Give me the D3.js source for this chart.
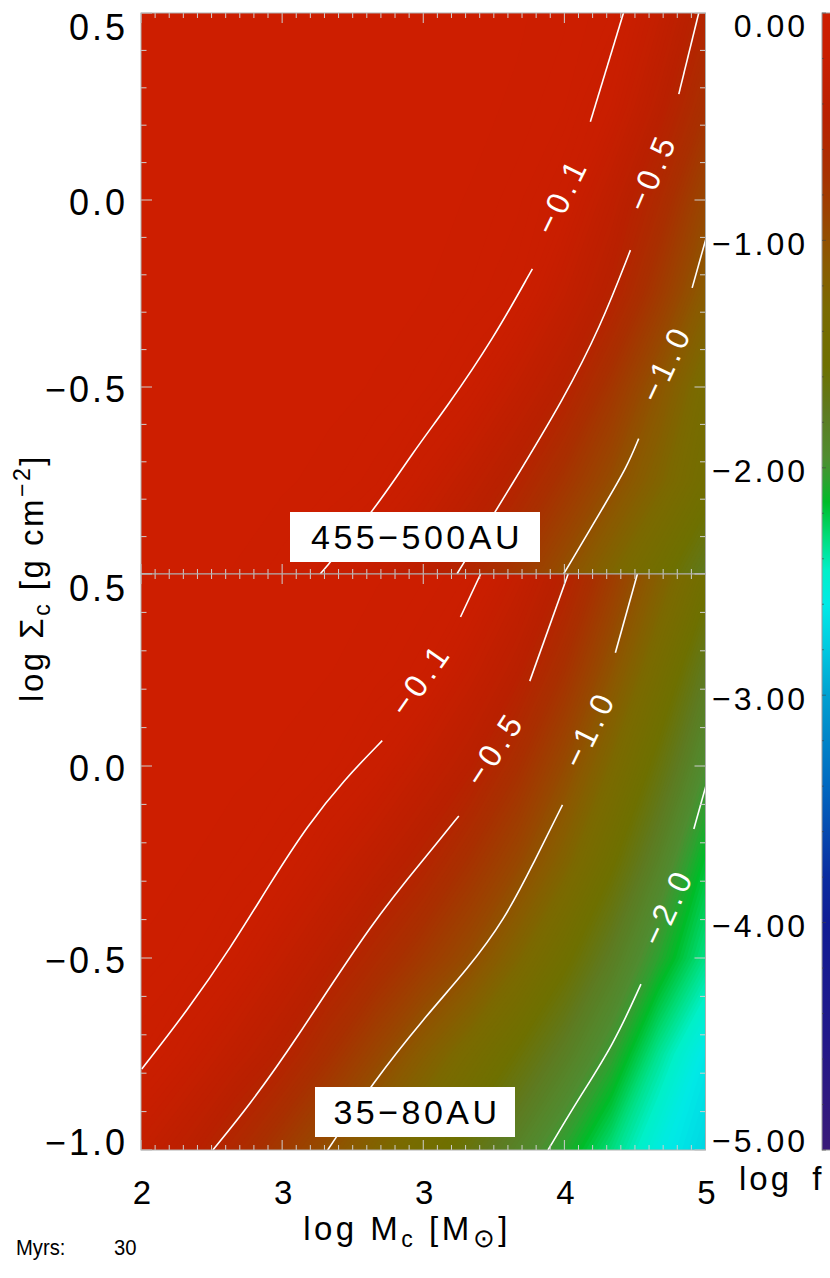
<!DOCTYPE html>
<html><head><meta charset="utf-8">
<script src="https://cdn.jsdelivr.net/npm/d3@7"></script>
<style>
html,body{margin:0;padding:0;background:#fff;}
svg{display:block;}
text{font-family:"Liberation Sans",Arial,sans-serif;}
</style></head><body>
<svg id="chart" width="830" height="1278"></svg>
<script>
// ---------------- DATA ----------------
const xGrid = [2.0, 2.25, 2.5, 2.75, 3.0, 3.25, 3.5, 3.75, 4.0, 4.25, 4.5, 4.75, 5.0];
const yGrid = [0.5, 0.25, 0.0, -0.25, -0.5, -0.75, -1.0];

// log f, panel 455-500AU (rows top->bottom follow yGrid)
const topValues = [
  0, 0, 0, 0, 0, 0, -0.003, -0.007, -0.015, -0.035, -0.081, -0.286, -0.54,
  0, 0, 0, 0, 0, 0, -0.005, -0.011, -0.025, -0.058, -0.183, -0.422, -0.70,
  0, 0, 0, 0, 0, -0.004, -0.010, -0.022, -0.051, -0.143, -0.358, -0.607, -0.924,
  0, 0, 0, 0, -0.004, -0.008, -0.018, -0.042, -0.098, -0.293, -0.491, -0.796, -1.116,
  0, 0, 0, -0.004, -0.010, -0.023, -0.052, -0.136, -0.309, -0.481, -0.756, -1.05, -1.367,
  0, 0, -0.006, -0.014, -0.032, -0.073, -0.197, -0.353, -0.515, -0.743, -0.972, -1.22, -1.47,
  -0.004, -0.010, -0.022, -0.051, -0.126, -0.264, -0.40, -0.561, -0.783, -1.005, -1.25, -1.49, -1.74
];
// log f, panel 35-80AU
const bottomValues = [
  0, 0, 0, -0.003, -0.007, -0.016, -0.036, -0.084, -0.268, -0.482, -0.812, -1.152, -1.49,
  0, -0.001, -0.003, -0.008, -0.018, -0.042, -0.096, -0.266, -0.44, -0.71, -1.033, -1.388, -1.744,
  -0.002, -0.005, -0.011, -0.026, -0.061, -0.159, -0.307, -0.455, -0.686, -0.954, -1.281, -1.62, -1.96,
  -0.008, -0.018, -0.042, -0.097, -0.234, -0.373, -0.517, -0.722, -0.928, -1.207, -1.528, -1.848, -2.17,
  -0.023, -0.054, -0.139, -0.288, -0.438, -0.608, -0.792, -0.976, -1.239, -1.512, -1.786, -2.06, -2.33,
  -0.08, -0.204, -0.346, -0.488, -0.697, -0.912, -1.132, -1.354, -1.576, -1.798, -2.03, -2.35, -2.62,
  -0.283, -0.425, -0.597, -0.803, -1.009, -1.222, -1.435, -1.647, -1.86, -2.07, -2.31, -2.56, -2.72
];

// contour lines (segments split where the level label sits)
const topC01 = [
  [[4.564, 0.5], [4.388, 0.209]],
  [[4.080, -0.184], [3.872, -0.371], [3.628, -0.552], [3.447, -0.673], [3.234, -0.834], [2.952, -1.0]]
];
const topC05 = [
  [[4.964, 0.5], [4.858, 0.283]],
  [[4.601, -0.134], [4.441, -0.340], [4.246, -0.532], [3.980, -0.754], [3.679, -1.0]]
];
const topC10 = [
  [[5.005, -0.099], [4.929, -0.235]],
  [[4.645, -0.638], [4.583, -0.713], [4.477, -0.804], [4.246, -1.0]]
];
const botC01 = [
  [[3.805, 0.5], [3.698, 0.388]],
  [[3.282, 0.066], [3.079, -0.036], [2.885, -0.155], [2.691, -0.302], [2.479, -0.472], [2.246, -0.637], [2.004, -0.789]]
];
const botC05 = [
  [[4.270, 0.5], [4.066, 0.221]],
  [[3.689, -0.130], [3.544, -0.219], [3.234, -0.401], [2.808, -0.725], [2.576, -0.883], [2.382, -1.0]]
];
const botC10 = [
  [[4.638, 0.5], [4.521, 0.295]],
  [[4.240, -0.101], [4.086, -0.253], [3.931, -0.401], [3.737, -0.528], [3.505, -0.656], [3.234, -0.823], [2.992, -1.0]]
];
const botC20 = [
  [[5.005, -0.047], [4.938, -0.164]],
  [[4.657, -0.568], [4.512, -0.725], [4.318, -0.872], [4.163, -1.0]]
];

const topLevelLabels = ["−0.1", "−0.5", "−1.0"];
const topLabelAt = [[4.233, 0.012], [4.713, 0.075], [4.787, -0.436]];
const topLabelAngle = [-64, -67, -65];
const botLevelLabels = ["−0.1", "−0.5", "−1.0", "−2.0"];
const botLabelAt = [[3.484, 0.227], [3.878, 0.046], [4.380, 0.097], [4.797, -0.366]];
const botLabelAngle = [-55, -57, -64, -65];

const panelNames = ["455−500AU", "35−80AU"];

const xTickValues = [2, 2.75, 3.5, 4.25, 5];
const xTickLabels = ["2", "3", "3", "4", "5"];
const yTickValuesTop = [0.5, 0.0, -0.5];
const yTickLabelsTop = ["0.5", "0.0", "−0.5"];
const yTickValuesBot = [0.5, 0.0, -0.5, -1.0];
const yTickLabelsBot = ["0.5", "0.0", "−0.5", "−1.0"];
const cbTickValues = [0, -1, -2, -3, -4, -5];
const cbTickLabels = ["0.00", "−1.00", "−2.00", "−3.00", "−4.00", "−5.00"];

const cbValues = [0, -0.2, -0.45, -0.7, -0.9, -1.1, -1.3, -1.55, -1.75, -1.95, -2.05, -2.15, -2.3, -2.45, -2.6, -2.8, -3.0, -3.4, -3.8, -4.0, -4.5, -5.0];
const cbColors = ["#cd1e00", "#c81e00", "#b92000", "#a83000", "#9a4400", "#8a5a00", "#7a6a00", "#6e7000", "#5e7a20", "#508c30", "#30a030", "#00bc28", "#00dc78", "#00f0c8", "#00eae6", "#00c8e0", "#00a0d0", "#0068c0", "#0a2ca0", "#101c94", "#22188a", "#3a1a78"];

// ---------------- LAYOUT ----------------
const svg = d3.select("#chart");
const FONT = "'Liberation Sans', Arial, sans-serif";
const x = d3.scaleLinear().domain([2, 5]).range([141, 705.5]);
const yTop = d3.scaleLinear().domain([-1, 0.5]).range([574, 13]);
const yBot = d3.scaleLinear().domain([-1, 0.5]).range([1150, 574]);
const yCb = d3.scaleLinear().domain([-5, 0]).range([1150, 13]);
const color = d3.scaleLinear().domain(cbValues).range(cbColors).interpolate(d3.interpolateRgb).clamp(true);

const defs = svg.append("defs");

function drawPanel(idx, values, yS, contourSets, levelLabels, labelAt, labelAngle) {
  const g = svg.append("g");
  const [y0, y1] = yS.range(); // bottom, top
  const clipId = "clip" + idx;
  defs.append("clipPath").attr("id", clipId).append("rect")
    .attr("x", x(2)).attr("y", y1).attr("width", x(5) - x(2)).attr("height", y0 - y1);

  // field
  const n = xGrid.length, m = yGrid.length;
  const dx = xGrid[1] - xGrid[0], dy = yGrid[1] - yGrid[0];
  const step = 0.02;
  const thresholds = d3.range(-3.0, -0.0001, step);
  const bands = d3.contours().size([n, m]).thresholds(thresholds)(values);
  const proj = d3.geoTransform({
    point: function (cx, cy) {
      this.stream.point(x(xGrid[0] + (cx - 0.5) * dx), yS(yGrid[0] + (cy - 0.5) * dy));
    }
  });
  const path = d3.geoPath(proj);
  const field = g.append("g").attr("clip-path", `url(#${clipId})`);
  field.selectAll("path").data(bands).join("path")
    .attr("d", path)
    .attr("fill", d => color(Math.min(0, d.value + step / 2)))
    .attr("stroke", "none");

  // contour lines
  const line = d3.line().x(d => x(d[0])).y(d => yS(d[1])).curve(d3.curveBasis);
  const lines = g.append("g").attr("clip-path", `url(#${clipId})`);
  contourSets.forEach(segs => {
    segs.forEach(seg => {
      lines.append("path").attr("d", line(seg))
        .attr("fill", "none").attr("stroke", "#ffffff").attr("stroke-width", 1.6);
    });
  });
  // level labels
  levelLabels.forEach((t, i) => {
    const px = x(labelAt[i][0]), py = yS(labelAt[i][1]);
    g.append("text").attr("transform", `translate(${px},${py}) rotate(${labelAngle[i]})`)
      .attr("text-anchor", "middle").attr("dy", "0.36em")
      .attr("fill", "#ffffff").attr("font-size", 32).attr("letter-spacing", 4.5)
      .attr("font-family", FONT).text(t);
  });

  // panel name box
  const boxX = x(2) + (idx === 0 ? 149 : 174);
  const boxW = idx === 0 ? 250 : 200;
  const boxYb = idx === 0 ? y0 - 12 : y0 - 13;
  g.append("rect").attr("x", boxX).attr("y", boxYb - 50).attr("width", boxW).attr("height", 50)
    .attr("fill", "#ffffff");
  g.append("text").attr("x", boxX + boxW / 2 + 2).attr("y", boxYb - 13)
    .attr("text-anchor", "middle").attr("font-size", 34).attr("letter-spacing", 3.5)
    .attr("font-family", FONT).attr("fill", "#000").text(panelNames[idx]);

  // ticks
  const tk = g.append("g").attr("stroke", "#cfcfcf").attr("stroke-width", 1);
  d3.range(0, 41).forEach(i => {
    const v = 2 + i * 0.075;
    const len = i % 10 === 0 ? 10 : 5;
    const px = x(v);
    tk.append("line").attr("x1", px).attr("x2", px).attr("y1", y1).attr("y2", y1 + len);
    tk.append("line").attr("x1", px).attr("x2", px).attr("y1", y0).attr("y2", y0 - len);
  });
  d3.range(0, 16).forEach(i => {
    const v = -1 + i * 0.1;
    const len = i % 5 === 0 ? 11 : 5.5;
    const py = yS(v);
    tk.append("line").attr("x1", x(2)).attr("x2", x(2) + len).attr("y1", py).attr("y2", py);
    tk.append("line").attr("x1", x(5)).attr("x2", x(5) - len).attr("y1", py).attr("y2", py);
  });
  // frame
  g.append("rect").attr("x", x(2)).attr("y", y1).attr("width", x(5) - x(2)).attr("height", y0 - y1)
    .attr("fill", "none").attr("stroke", "#b0b0b0").attr("stroke-width", 1);
}

drawPanel(0, topValues, yTop, [topC01, topC05, topC10], topLevelLabels, topLabelAt, topLabelAngle);
drawPanel(1, bottomValues, yBot, [botC01, botC05, botC10, botC20], botLevelLabels, botLabelAt, botLabelAngle);

// y tick labels
function yLabels(vals, labs, yS) {
  vals.forEach((v, i) => {
    let c = yS(v);
    if (v === 0.5) c += 13.5; else if (v === -1.0) c -= 8; else c += 2;
    svg.append("text").attr("x", 128).attr("y", c + 13)
      .attr("text-anchor", "end").attr("font-size", 36).attr("letter-spacing", 3)
      .attr("font-family", FONT).attr("fill", "#000").text(labs[i]);
  });
}
yLabels(yTickValuesTop, yTickLabelsTop, yTop);
yLabels(yTickValuesBot, yTickLabelsBot, yBot);

// x tick labels
xTickValues.forEach((v, i) => {
  svg.append("text").attr("x", x(v) + 1).attr("y", 1204)
    .attr("text-anchor", "middle").attr("font-size", 33)
    .attr("font-family", FONT).attr("fill", "#000").text(xTickLabels[i]);
});

// axis titles
const xt = svg.append("text").attr("x", 407).attr("y", 1240).attr("text-anchor", "middle")
  .attr("font-size", 33).attr("letter-spacing", 3.5).attr("font-family", FONT).attr("fill", "#000");
xt.append("tspan").text("log M");
xt.append("tspan").attr("font-size", 23).attr("dy", 7).text("c");
xt.append("tspan").attr("dy", -7).text(" [M");
xt.append("tspan").attr("font-size", 26).attr("dy", 7).text("⊙");
xt.append("tspan").attr("dy", -7).text("]");

const yt = svg.append("text").attr("transform", "translate(43,578) rotate(-90)").attr("text-anchor", "middle")
  .attr("font-size", 33).attr("letter-spacing", 2.5).attr("font-family", FONT).attr("fill", "#000");
yt.append("tspan").text("log Σ");
yt.append("tspan").attr("font-size", 23).attr("dy", 7).text("c");
yt.append("tspan").attr("dy", -7).text(" [g cm");
yt.append("tspan").attr("font-size", 23).attr("dy", -13).text("−2");
yt.append("tspan").attr("dy", 13).text("]");

// colour bar
const grad = defs.append("linearGradient").attr("id", "cbgrad")
  .attr("gradientUnits", "userSpaceOnUse").attr("x1", 0).attr("x2", 0)
  .attr("y1", yCb(0)).attr("y2", yCb(-5));
cbValues.forEach((v, i) => {
  grad.append("stop").attr("offset", (yCb(v) - yCb(0)) / (yCb(-5) - yCb(0))).attr("stop-color", cbColors[i]);
});
svg.append("rect").attr("x", 822).attr("y", yCb(0)).attr("width", 20).attr("height", yCb(-5) - yCb(0))
  .attr("fill", "url(#cbgrad)").attr("stroke", "#999").attr("stroke-width", 1);
const cbt = svg.append("g").attr("stroke", "#444").attr("stroke-width", 1).attr("opacity", 0.6);
d3.range(0, 26).forEach(i => {
  const v = -i * 0.2;
  const py = yCb(v);
  cbt.append("line").attr("x1", 822).attr("x2", 822 + (i % 5 === 0 ? 4 : 2)).attr("y1", py).attr("y2", py);
});
cbTickValues.forEach((v, i) => {
  let c = yCb(v);
  if (v === 0) c = 25; else if (v === -5) c = 1140; else c += 3;
  svg.append("text").attr("x", 808).attr("y", c + 11.5)
    .attr("text-anchor", "end").attr("font-size", 32).attr("letter-spacing", 3)
    .attr("font-family", FONT).attr("fill", "#000").text(cbTickLabels[i]);
});
svg.append("text").attr("x", 739).attr("y", 1190).attr("font-size", 33).attr("letter-spacing", 3)
  .attr("word-spacing", 8).attr("font-family", FONT).attr("fill", "#000").text("log f");

// footer
svg.append("text").attr("x", 16).attr("y", 1255).attr("font-size", 22)
  .attr("transform", "translate(16,0) scale(0.92,1) translate(-16,0)")
  .attr("font-family", FONT).attr("fill", "#000").text("Myrs:");
svg.append("text").attr("x", 114).attr("y", 1255).attr("font-size", 22)
  .attr("transform", "translate(114,0) scale(0.92,1) translate(-114,0)")
  .attr("font-family", FONT).attr("fill", "#000").text("30");
</script>
</body></html>
